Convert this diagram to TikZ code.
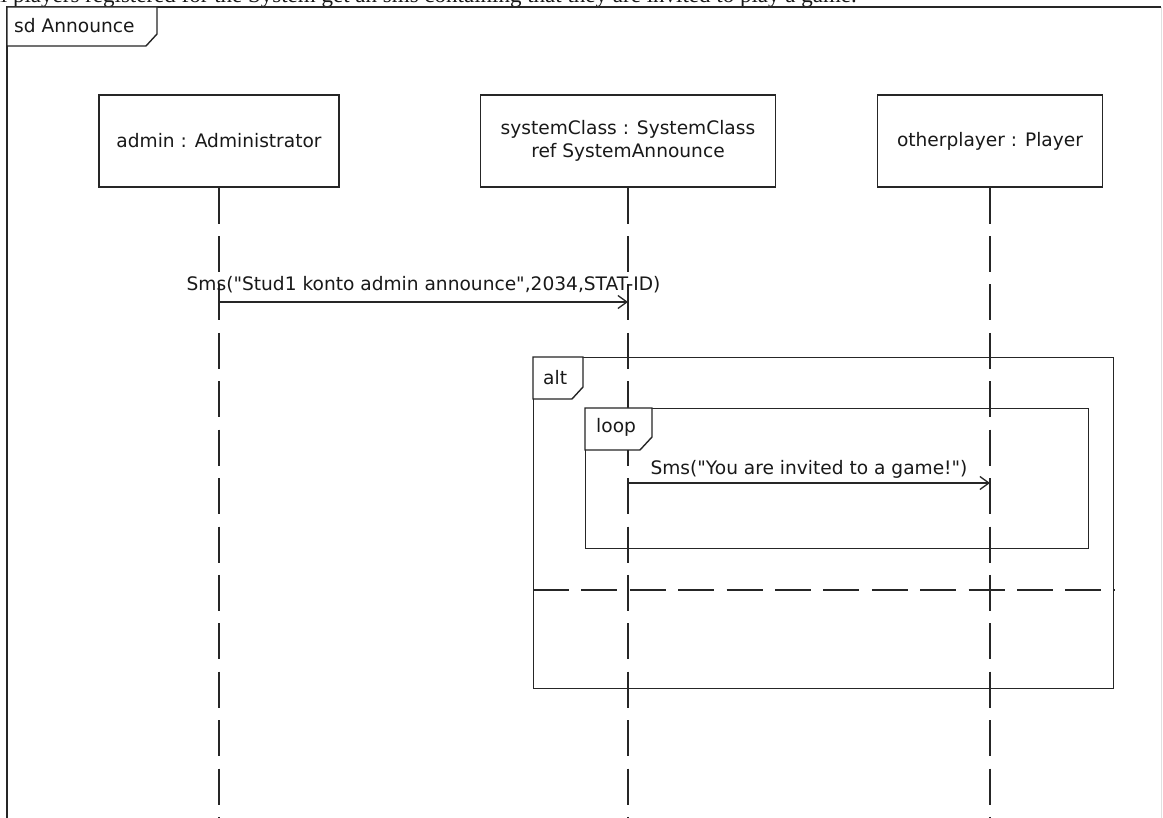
\documentclass[tikz,border=0pt]{standalone}
\usepackage{fontspec}
\newfontfamily\umlfont{DejaVu Sans}
\newfontfamily\noteserif{Liberation Serif}
\usetikzlibrary{arrows.meta}
\begin{document}
\begin{tikzpicture}[x=1pt,y=-1pt,
  every node/.style={font=\umlfont\fontsize{18.6}{23}\selectfont, text=black!90},
  ln/.style={line width=1.4pt, draw=black!85},
  objbox/.style={ln, draw, minimum height=92pt, inner sep=0pt},
  lifeline/.style={ln, dash pattern=on 36pt off 12.4pt},
  msg/.style={ln, -{Straight Barb[length=9pt,width=13pt,line width=1.3pt]}},
  fragment/.style={ln, draw, inner sep=0pt, anchor=north west},
  tagshape/.style={ln, fill=white},
  guard/.style={ln, dash pattern=on 36pt off 12.4pt},
]
\useasboundingbox (0,0) rectangle (1163,818);
\clip (0,0) rectangle (1163,818);
\fill[white] (0,0) rectangle (1163,818);

% caption line above the frame (only its lower edge lies inside the page)
\node[font=\noteserif\fontsize{23}{27}\selectfont, anchor=base east, inner sep=0pt] (note)
  at (857,2.2) {All players registered for the System get an sms containing that they are invited to play a game.};

% helper coordinates
\coordinate (bottom) at (0,822);
\coordinate (m1) at (0,302);
\coordinate (m2) at (0,483);
\coordinate (sep) at (0,590);

% diagram frame
\node[inner sep=0pt, anchor=north west, minimum width=1154pt, minimum height=815pt] (sd) at (7,7) {};
\draw[ln, line width=1.6pt] (sd.north east) -- (sd.north west) -- (sd.south west);
\draw[black!12, line width=1pt] (sd.north east) -- (sd.south east);

% lifeline heads
\node[objbox, minimum width=240pt] (admin) at (219,141) {admin : Administrator};
\node[objbox, minimum width=295pt, align=center] (sys) at (628,141) {systemClass : SystemClass\\ref SystemAnnounce};
\node[objbox, minimum width=225pt] (other) at (990,141) {otherplayer : Player};

% lifelines
\draw[lifeline] (admin.south) -- (admin.south |- bottom);
\draw[lifeline] (sys.south) -- (sys.south |- bottom);
\draw[lifeline] (other.south) -- (other.south |- bottom);

% combined fragments
\node[fragment, minimum width=580pt, minimum height=331pt] (alt) at (533,357) {};
\node[fragment, minimum width=503pt, minimum height=140pt] (loop) at (585,408) {};
\draw[guard] (alt.west |- sep) -- (alt.east |- sep);

% fragment tags
\draw[tagshape] (sd.north west) -- ++(150,0) -- ++(0,27) -- ++(-11,12) -- ++(-139,0) -- cycle;
\node[anchor=base west, inner sep=0pt] (sdlabel) at ([shift={(7,26)}]sd.north west) {sd Announce};
\draw[tagshape] (alt.north west) -- ++(50,0) -- ++(0,30) -- ++(-11,12) -- ++(-39,0) -- cycle;
\node[anchor=base west, inner sep=0pt] (altlabel) at ([shift={(10,28)}]alt.north west) {alt};
\draw[tagshape] (loop.north west) -- ++(67,0) -- ++(0,29) -- ++(-12,13) -- ++(-55,0) -- cycle;
\node[anchor=base west, inner sep=0pt] (looplabel) at ([shift={(11,24)}]loop.north west) {loop};

% messages
\draw[msg] (admin.south |- m1) -- (sys.south |- m1)
  node[midway, anchor=base, yshift=11pt, inner sep=0pt] (m1label) {Sms("Stud1 konto admin announce",2034,STAT-ID)};
\draw[msg] (sys.south |- m2) -- (other.south |- m2)
  node[midway, anchor=base, yshift=8pt, inner sep=0pt] (m2label) {Sms("You are invited to a game!")};
\end{tikzpicture}
\end{document}
